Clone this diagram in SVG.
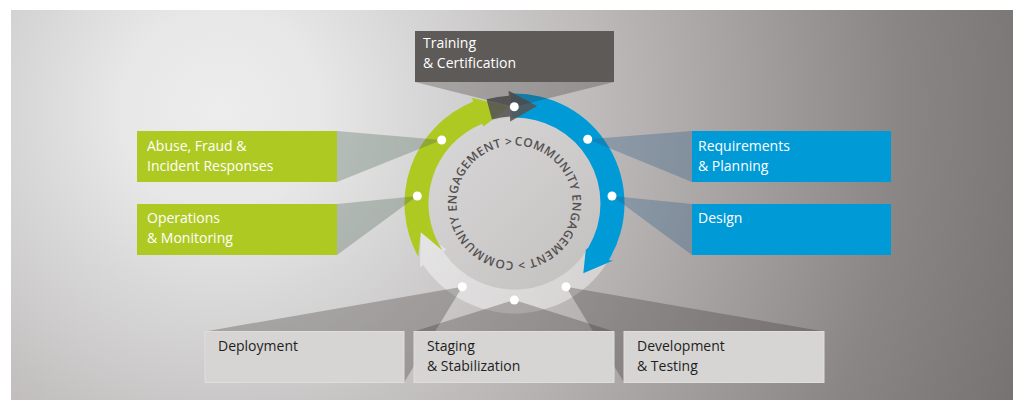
<svg xmlns="http://www.w3.org/2000/svg" width="1013" height="400" viewBox="0 0 1013 400">
<defs>
<radialGradient id="bg" gradientUnits="userSpaceOnUse" cx="220" cy="110" r="850">
<stop offset="0" stop-color="#ededee"/>
<stop offset="0.12" stop-color="#e7e7e8"/>
<stop offset="0.45" stop-color="#bcb9b8"/>
<stop offset="0.8" stop-color="#8a8685"/>
<stop offset="1" stop-color="#767271"/>
</radialGradient>
<linearGradient id="disc" x1="0" y1="0" x2="1" y2="1">
<stop offset="0" stop-color="#d9d8d8"/>
<stop offset="1" stop-color="#c2c0bf"/>
</linearGradient>
<path id="ringtext" d="M 514.5 145.5 A 58 58 0 1 1 514.5 261.5 A 58 58 0 1 1 514.5 145.5"/>
<style>
.lbl{font-family:"Open Sans","Noto Sans","Liberation Sans",sans-serif;font-size:14px}
.w{fill:#ffffff}
.d{fill:#1e1e1e}
.green{fill:#afc923}
.blue{fill:#009ad7}
.dark{fill:#5e5a58}
.light{fill:#d6d5d4;stroke:#dfdedd;stroke-width:1}
.dot{fill:#ffffff}
.beamG{fill:rgb(70,95,80);fill-opacity:0.3}
.beamB{fill:rgb(45,90,135);fill-opacity:0.33}
.beamK{fill:rgb(55,50,50);fill-opacity:0.3}
.ring{font-family:"Open Sans","Noto Sans","Liberation Sans",sans-serif;font-size:12px;font-weight:600;fill:#545050;letter-spacing:0.4px}
</style>
</defs>
<rect x="0" y="0" width="1013" height="400" fill="#ffffff"/>
<rect x="11" y="10" width="1002" height="390" fill="url(#bg)"/>

<g id="cycle">
<circle cx="514.5" cy="203.5" r="86" fill="url(#disc)"/>
<path d="M 614.19 249.99 A 110 110 0 0 1 423.31 265.01 L 419.99 267.25 L 420.78 232.15 L 446.52 249.35 L 443.2 251.59 A 86 86 0 0 0 592.44 239.85 Z" fill="#ffffff" fill-opacity="0.42"/>
<path class="green" d="M 418.29 256.83 A 110 110 0 0 1 473.29 101.51 L 471.79 97.8 L 509.42 106.63 L 483.41 126.54 L 482.28 123.76 A 86 86 0 0 0 442.37 250.34 L 420.78 232.15 Z"/>
<path class="blue" d="M 510.66 93.57 A 110 110 0 0 1 608.79 260.15 L 613.23 260.5 L 583.31 273.28 L 585.79 249.79 L 588.22 247.79 A 86 86 0 0 0 511.5 117.55 Z"/>
<path d="M 486.55 99.18 A 108 108 0 0 1 508.85 95.65 L 508.59 90.65 L 537 106.06 L 510.21 121.61 L 509.95 116.62 A 87 87 0 0 0 491.98 119.46 Z" fill="#555353" fill-opacity="0.88"/>
<text class="ring"><textPath href="#ringtext">COMMUNITY ENGAGEMENT &gt; COMMUNITY ENGAGEMENT &gt;</textPath></text>
</g>

<g id="connectors">
<polygon class="beamK" points="415,82 614,82 514.3,106.7"/>
<polygon class="beamG" points="337,131 337,182 441.7,140"/>
<polygon class="beamG" points="337,204 337,255 417.3,196"/>
<polygon class="beamB" points="692,131 692,182 587.7,139.3"/>
<polygon class="beamB" points="692,204 692,255 612,196"/>
<polygon class="beamK" points="462.3,286.7 205,331.5 404,382.5"/>
<polygon class="beamK" points="514.3,300 414,331.5 614,331.5"/>
<polygon class="beamK" points="566,286.7 824,331.5 624,382.5"/>
</g>

<g id="training">
<rect class="dark" x="415" y="31" width="199" height="51"/>
<text class="lbl w" x="423" y="48">Training</text>
<text class="lbl w" x="423" y="68">&amp; Certification</text>
</g>
<g id="abuse">
<rect class="green" x="137" y="131" width="200" height="51"/>
<text class="lbl w" x="147" y="151">Abuse, Fraud &amp;</text>
<text class="lbl w" x="147" y="171">Incident Responses</text>
</g>
<g id="operations">
<rect class="green" x="137" y="204" width="200" height="51"/>
<text class="lbl w" x="147" y="223">Operations</text>
<text class="lbl w" x="147" y="243">&amp; Monitoring</text>
</g>
<g id="requirements">
<rect class="blue" x="692" y="131" width="199" height="51"/>
<text class="lbl w" x="698" y="151">Requirements</text>
<text class="lbl w" x="698" y="171">&amp; Planning</text>
</g>
<g id="design">
<rect class="blue" x="692" y="204" width="199" height="51"/>
<text class="lbl w" x="698" y="223">Design</text>
</g>
<g id="deployment">
<rect class="light" x="205" y="331.5" width="199" height="51"/>
<text class="lbl d" x="218" y="351">Deployment</text>
</g>
<g id="staging">
<rect class="light" x="414" y="331.5" width="200" height="51"/>
<text class="lbl d" x="427" y="351">Staging</text>
<text class="lbl d" x="427" y="371">&amp; Stabilization</text>
</g>
<g id="development">
<rect class="light" x="624" y="331.5" width="200" height="51"/>
<text class="lbl d" x="637" y="351">Development</text>
<text class="lbl d" x="637" y="371">&amp; Testing</text>
</g>

<g id="dots">
<circle class="dot" cx="514.3" cy="106.7" r="4.5"/>
<circle class="dot" cx="441.7" cy="140" r="4.5"/>
<circle class="dot" cx="417.3" cy="196" r="4.5"/>
<circle class="dot" cx="587.7" cy="139.3" r="4.5"/>
<circle class="dot" cx="612" cy="196" r="4.5"/>
<circle class="dot" cx="462.3" cy="286.7" r="4.5"/>
<circle class="dot" cx="514.3" cy="300" r="4.5"/>
<circle class="dot" cx="566" cy="286.7" r="4.5"/>
</g>
</svg>
